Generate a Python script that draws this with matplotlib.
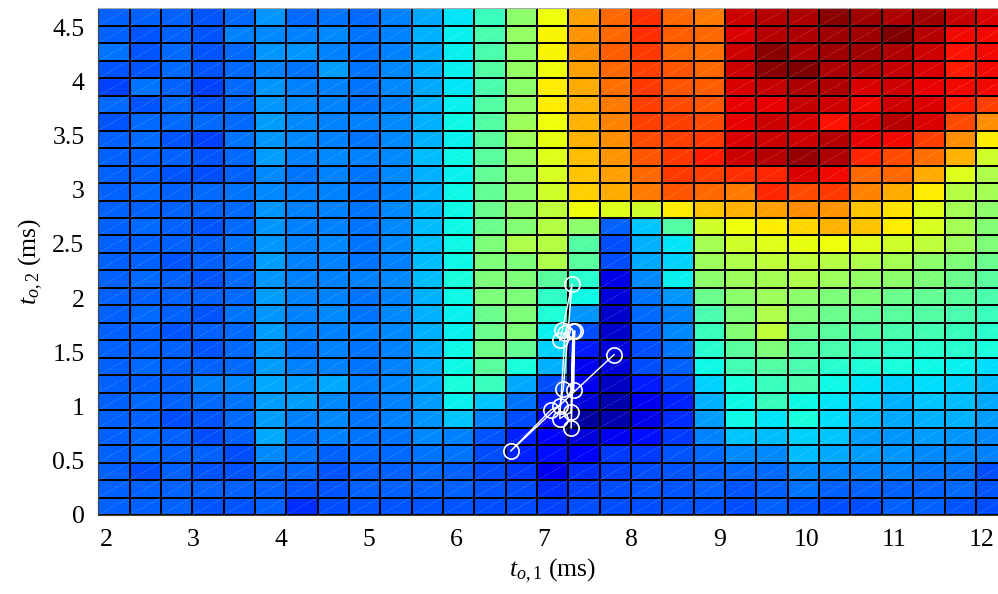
import numpy as np
import matplotlib
matplotlib.use("Agg")
import matplotlib.pyplot as plt
from matplotlib.collections import LineCollection

# cell edges of the grid (ms)
x_edges = np.linspace(1.912, 12.288, 30)
y_edges = np.linspace(0.0, 4.674, 30)

# cell values on the jet scale (x100), rows listed from the top (t_o2 high) down
rows_top_down = [
    [22, 22, 22, 21, 23, 27, 23, 24, 23, 25, 29, 35, 42, 52, 64, 74, 80, 86, 80, 78, 93, 95, 96, 99, 97, 96, 97, 94, 92],
    [22, 21, 22, 21, 25, 26, 25, 26, 24, 25, 30, 36, 44, 53, 65, 75, 80, 86, 81, 80, 92, 95, 96, 97, 97, 100, 95, 90, 90],
    [24, 21, 23, 21, 23, 27, 27, 25, 24, 25, 29, 36, 44, 52, 65, 76, 81, 85, 80, 79, 93, 99, 96, 97, 97, 96, 93, 89, 90],
    [21, 21, 23, 21, 23, 25, 24, 28, 24, 26, 30, 36, 45, 53, 64, 74, 80, 84, 82, 80, 93, 99, 100, 96, 95, 94, 92, 88, 90],
    [19, 24, 22, 19, 23, 27, 25, 25, 24, 26, 29, 35, 44, 52, 66, 73, 79, 85, 82, 81, 92, 94, 96, 96, 92, 93, 91, 90, 90],
    [23, 21, 23, 21, 23, 27, 26, 25, 24, 25, 30, 36, 45, 53, 66, 72, 78, 84, 83, 82, 91, 91, 94, 93, 90, 93, 92, 88, 84],
    [21, 23, 23, 23, 23, 28, 26, 25, 25, 26, 30, 37, 45, 54, 64, 72, 77, 84, 84, 83, 91, 93, 92, 89, 92, 95, 92, 83, 76],
    [22, 23, 21, 19, 24, 27, 26, 25, 24, 26, 30, 36, 46, 54, 63, 72, 76, 83, 84, 85, 92, 93, 93, 95, 91, 90, 84, 76, 66],
    [22, 22, 22, 21, 23, 28, 25, 26, 25, 26, 31, 37, 46, 53, 62, 71, 75, 82, 85, 88, 93, 95, 98, 96, 87, 83, 79, 72, 60],
    [22, 22, 21, 20, 22, 26, 24, 25, 24, 26, 30, 36, 47, 52, 61, 70, 74, 80, 85, 84, 86, 87, 92, 90, 80, 80, 73, 62, 56],
    [22, 23, 22, 23, 24, 26, 25, 25, 24, 25, 30, 37, 47, 52, 60, 69, 73, 78, 82, 80, 78, 87, 83, 85, 77, 73, 66, 57, 55],
    [22, 22, 22, 22, 23, 27, 25, 25, 24, 26, 31, 37, 48, 52, 58, 64, 62, 60, 66, 70, 72, 74, 76, 75, 70, 67, 62, 55, 52],
    [22, 23, 22, 21, 23, 27, 25, 25, 24, 26, 31, 37, 48, 51, 57, 52, 22, 32, 45, 60, 64, 66, 68, 72, 70, 66, 61, 55, 51],
    [22, 22, 22, 22, 24, 27, 25, 26, 24, 26, 31, 37, 50, 56, 57, 45, 20, 30, 35, 55, 60, 62, 63, 64, 62, 60, 58, 54, 50],
    [22, 22, 21, 22, 23, 28, 25, 25, 24, 25, 31, 37, 50, 50, 56, 46, 20, 29, 33, 54, 56, 58, 58, 57, 56, 55, 52, 50, 48],
    [22, 23, 22, 21, 23, 27, 25, 25, 25, 26, 31, 38, 50, 50, 46, 40, 9, 26, 36, 52, 54, 55, 56, 54, 53, 52, 50, 48, 46],
    [22, 22, 22, 22, 23, 28, 25, 25, 24, 25, 30, 37, 50, 50, 41, 37, 8, 24, 27, 48, 52, 54, 52, 50, 50, 48, 47, 46, 44],
    [22, 23, 22, 21, 24, 27, 25, 26, 24, 26, 30, 36, 48, 50, 39, 27, 7, 23, 25, 44, 50, 56, 50, 48, 47, 46, 45, 44, 42],
    [22, 22, 21, 22, 23, 28, 25, 25, 25, 26, 30, 36, 48, 50, 36, 20, 7, 22, 26, 42, 51, 58, 48, 46, 45, 44, 43, 42, 40],
    [22, 22, 22, 21, 23, 27, 24, 25, 24, 25, 30, 37, 49, 47, 33, 15, 8, 20, 24, 40, 46, 50, 46, 44, 42, 41, 40, 40, 38],
    [22, 23, 22, 22, 23, 28, 25, 25, 24, 25, 29, 37, 46, 38, 30, 10, 8, 20, 22, 37, 43, 45, 44, 40, 39, 38, 37, 36, 34],
    [22, 22, 22, 25, 26, 29, 28, 29, 25, 26, 29, 38, 42, 29, 20, 10, 6, 15, 20, 33, 38, 42, 44, 37, 35, 33, 34, 33, 31],
    [22, 23, 22, 23, 24, 28, 28, 26, 24, 25, 28, 36, 32, 24, 16, 8, 4, 10, 16, 30, 37, 42, 37, 35, 33, 30, 32, 31, 29],
    [22, 22, 20, 21, 23, 28, 25, 26, 24, 25, 27, 32, 25, 20, 12, 3, 4, 9, 17, 28, 37, 35, 38, 34, 31, 29, 30, 30, 28],
    [22, 23, 22, 20, 22, 29, 24, 25, 24, 24, 26, 25, 21, 16, 11, 8, 10, 14, 18, 25, 32, 31, 33, 32, 28, 27, 28, 27, 26],
    [22, 23, 22, 22, 20, 26, 24, 22, 23, 23, 24, 24, 20, 16, 14, 12, 18, 18, 21, 23, 26, 26, 31, 29, 28, 27, 26, 26, 25],
    [22, 20, 22, 21, 21, 23, 23, 21, 22, 22, 23, 22, 20, 18, 10, 17, 19, 20, 21, 22, 23, 23, 26, 25, 25, 25, 24, 24, 20],
    [22, 22, 22, 22, 22, 22, 21, 21, 22, 22, 22, 22, 21, 20, 17, 19, 20, 21, 21, 22, 21, 22, 24, 22, 22, 22, 22, 23, 21],
    [22, 22, 22, 21, 21, 22, 17, 20, 21, 21, 21, 21, 20, 20, 19, 20, 20, 20, 21, 21, 20, 22, 21, 20, 20, 22, 22, 21, 20],
]

# optimisation path (ms)
path_t1 = [7.80, 6.62, 7.08, 7.18, 7.22, 7.32, 7.21, 7.18, 7.24, 7.18, 7.31, 7.33, 7.31, 7.35, 7.34]
path_t2 = [1.48, 0.59, 0.97, 1.01, 1.16, 2.13, 1.71, 1.61, 1.68, 0.89, 0.95, 1.70, 0.80, 1.70, 1.15]

plt.rcParams['font.family'] = ['Liberation Serif', 'DejaVu Serif']
plt.rcParams['mathtext.fontset'] = 'custom'
plt.rcParams['mathtext.rm'] = 'Liberation Serif'
plt.rcParams['mathtext.it'] = 'Liberation Serif:italic'

values = np.array(rows_top_down[::-1]) / 100.0

fig = plt.figure(figsize=(9.98, 5.94), dpi=100)
ax = fig.add_axes([0.0985, 0.133, 0.9107, 0.853])

ax.pcolormesh(x_edges, y_edges, values, cmap='jet', vmin=0, vmax=1,
              edgecolors='black', linewidth=1.3)

# faint diagonal seams inside each cell
X0, Y0 = np.meshgrid(x_edges[:-1], y_edges[:-1])
X1, Y1 = np.meshgrid(x_edges[1:], y_edges[1:])
segs = np.stack([np.stack([X0.ravel(), Y0.ravel()], axis=1),
                 np.stack([X1.ravel(), Y1.ravel()], axis=1)], axis=1)
ax.add_collection(LineCollection(segs, colors='white', linewidths=0.5,
                                 alpha=0.35, linestyles=(0, (2, 2))))

ax.plot(path_t1, path_t2, color='white', linewidth=1.0, marker='o',
        markersize=11, markerfacecolor='none', markeredgecolor='white',
        markeredgewidth=1.2)

ax.set_xlim(x_edges[0], x_edges[-1])
ax.set_ylim(y_edges[0], y_edges[-1])
ax.set_xticks(np.arange(2, 13, 1))
ax.set_xticklabels([str(v) for v in range(2, 13)])
ax.set_yticks(np.arange(0, 4.6, 0.5))
ax.set_yticklabels(['0', '0.5', '1', '1.5', '2', '2.5', '3', '3.5', '4', '4.5'])
ax.tick_params(length=0, labelsize=18.5, pad=10)
for side in ['left', 'bottom']:
    ax.spines[side].set_color('#404040')
ax.spines['top'].set_color('#a8a8a8')

ax.set_xlabel(r'$t_{o,1}$ (ms)', fontsize=18.5, labelpad=4)
ax.set_ylabel(r'$t_{o,2}$ (ms)', fontsize=18.5, labelpad=5)

fig.savefig('out.png', dpi=100)
